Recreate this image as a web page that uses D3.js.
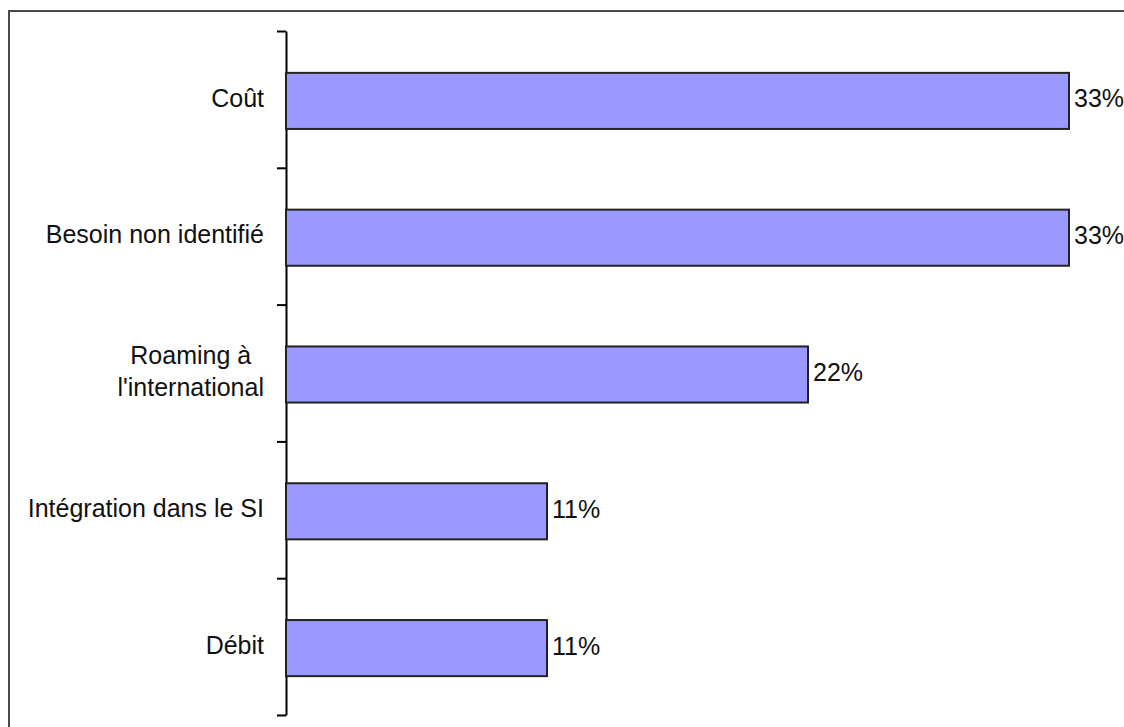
<!DOCTYPE html>
<html>
<head>
<meta charset="utf-8">
<script src="https://cdn.jsdelivr.net/npm/d3@7"></script>
<style>
  html, body { margin: 0; padding: 0; background: #fff; }
  svg { display: block; }
  text { font-family: "Liberation Sans", Arial, sans-serif; fill: #111; }
</style>
</head>
<body>
<svg id="chart" width="1124" height="727"></svg>
<script>
// Reasons cited, top to bottom
const categories = ["Coût", "Besoin non identifié", "Roaming à\nl'international", "Intégration dans le SI", "Débit"];
const values = [33, 33, 22, 11, 11];
const valueLabels = ["33%", "33%", "22%", "11%", "11%"];

const W = 1124, H = 727;
const plot = { left: 286, right: 1069, top: 31, bottom: 715 };
const fontSize = 25;

const svg = d3.select("#chart");

// Outer frame (only top and left edges fall inside the canvas)
svg.append("path")
  .attr("d", `M9,${H} V11 H${W}`)
  .attr("fill", "none")
  .attr("stroke", "#4a4a4a")
  .attr("stroke-width", 2);

const x = d3.scaleLinear()
  .domain([0, d3.max(values)])
  .range([plot.left, plot.right]);

const y = d3.scaleBand()
  .domain(categories)
  .range([plot.top, plot.bottom])
  .paddingInner(0.59)
  .paddingOuter(0.295);

// Category axis: ticks sit on the boundaries between bands
const yEdges = d3.scaleLinear()
  .domain([0, categories.length])
  .range([plot.top, plot.bottom]);

const axis = svg.append("g")
  .attr("transform", `translate(${plot.left},0)`)
  .call(d3.axisLeft(yEdges)
    .tickValues(d3.range(categories.length + 1))
    .tickFormat("")
    .tickSize(9)
    .tickSizeOuter(0));
axis.select(".domain").attr("stroke", "#000").attr("stroke-width", 2);
axis.selectAll(".tick line").attr("stroke", "#000").attr("stroke-width", 2);

// Bars
svg.append("g").selectAll("rect")
  .data(categories)
  .join("rect")
  .attr("x", x(0))
  .attr("y", d => y(d) + 1.5)
  .attr("width", (d, i) => x(values[i]) - x(0))
  .attr("height", y.bandwidth())
  .attr("fill", "#9999ff")
  .attr("stroke", "#222")
  .attr("stroke-width", 2);

// Value labels
svg.append("g").selectAll("text")
  .data(categories)
  .join("text")
  .attr("x", (d, i) => x(values[i]) + 5)
  .attr("y", d => y(d) + y.bandwidth() / 2 + 0.5)
  .attr("dy", "0.3em")
  .attr("font-size", fontSize)
  .text((d, i) => valueLabels[i]);

// Category labels: block right-aligned to the axis, lines centred within it
const labelRight = plot.left - 22;
const lineH = 32;
const lg = svg.append("g");
categories.forEach(c => {
  const lines = c.split("\n");
  const t = lg.append("text").attr("font-size", fontSize).attr("text-anchor", "middle");
  const cy = y(c) + y.bandwidth() / 2 - 1.5;
  lines.forEach((ln, j) => {
    t.append("tspan")
      .attr("y", cy + (j - (lines.length - 1) / 2) * lineH)
      .attr("dy", "0.35em")
      .text(ln);
  });
  let maxW = 0;
  t.selectAll("tspan").each(function () { maxW = Math.max(maxW, this.getComputedTextLength()); });
  t.selectAll("tspan").attr("x", labelRight - maxW / 2);
});
</script>
</body>
</html>
